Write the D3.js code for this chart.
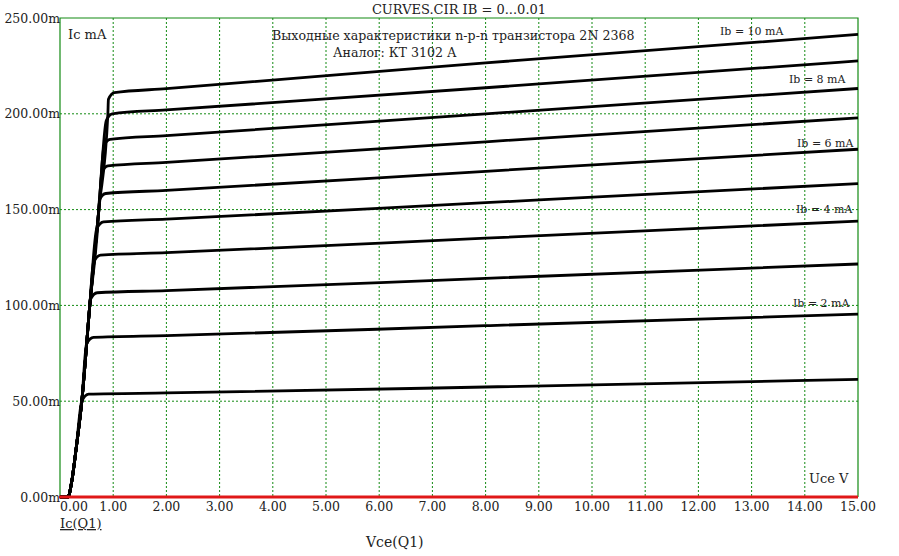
<!DOCTYPE html>
<html>
<head>
<meta charset="utf-8">
<script src="https://cdn.jsdelivr.net/npm/d3@7"></script>
<style>
  body { margin: 0; background: #fff; }
  svg text { font-family: "DejaVu Serif", serif; fill: #222; }
</style>
</head>
<body>
<div id="chart"></div>
<script>
// data //
const ibLabels = ['Ib = 1 mA', 'Ib = 2 mA', 'Ib = 3 mA', 'Ib = 4 mA', 'Ib = 5 mA',
  'Ib = 6 mA', 'Ib = 7 mA', 'Ib = 8 mA', 'Ib = 9 mA', 'Ib = 10 mA']
// common steep rise near the origin (Vce, Ic mA)
const riseV = [0.00, 0.15, 0.22, 0.30, 0.41, 0.56, 0.73, 0.90]
const riseI = [0.0, 0.0, 8.0, 24.5, 50.0, 100.0, 150.0, 200.0]
// where each curve leaves the rise, and where the flat part starts
const bendV = [0.41, 0.50, 0.57, 0.63, 0.69, 0.74, 0.79, 0.83, 0.87, 0.91]
const bendI = [50.0, 80.0, 103.0, 122.5, 140.0, 155.0, 169.5, 183.5, 196.5, 207.5]
const kneeV = [0.54, 0.63, 0.70, 0.76, 0.82, 0.86, 0.90, 0.94, 0.98, 1.02]
const kneeI = [53.7, 83.3, 106.6, 126.2, 143.6, 158.4, 172.8, 186.7, 200.0, 211.0]
// value at Vce = 2 V, 8 V and 15 V
const at2I = [54.3, 84.2, 107.7, 127.5, 145.0, 160.0, 174.6, 188.6, 202.0, 213.1]
const at8I = [57.4, 89.4, 114.1, 135.1, 153.6, 170.0, 185.4, 200.0, 213.6, 226.6]
const at15I = [61.4, 95.4, 121.6, 144.0, 163.6, 181.5, 197.9, 213.2, 227.6, 241.4]
// labelled curves
const labelled = [1, 3, 5, 7, 9]
const labelX = [0, 793, 0, 796, 0, 797, 0, 789, 0, 720]
const labelY = [0, 307, 0, 213, 0, 147, 0, 83, 0, 35]

const xTicks = [0, 1, 2, 3, 4, 5, 6, 7, 8, 9, 10, 11, 12, 13, 14, 15]
const yTicks = [0, 50, 100, 150, 200, 250]

const title = 'CURVES.CIR IB = 0...0.01'
const subTitle1 = 'Выходные характеристики n-p-n транзистора 2N 2368'
const subTitle2 = 'Аналог: КТ 3102 А'

// svg //
const width = 899
const height = 556
const margin = { top: 18, bottom: 59, left: 60, right: 41 }
const innerWidth = width - margin.left - margin.right
const innerHeight = height - margin.top - margin.bottom
const green = '#138a13'

const svg = d3.select('#chart').append('svg')
  .attr('width', width)
  .attr('height', height)

const main = svg.append('g')
  .attr('transform', `translate(${margin.left}, ${margin.top})`)

const x = d3.scaleLinear().domain([0, 15]).range([0, innerWidth])
const y = d3.scaleLinear().domain([0, 250]).range([innerHeight, 0])

// grid //
main.selectAll('.vgrid')
  .data(xTicks.filter(d => d > 0 && d < 15))
  .enter()
  .append('line')
  .attr('x1', d => x(d)).attr('x2', d => x(d))
  .attr('y1', 0).attr('y2', innerHeight)
  .attr('stroke', green)
  .attr('stroke-width', 1)
  .attr('stroke-dasharray', '2,2')

main.selectAll('.hgrid')
  .data(yTicks.filter(d => d > 0 && d < 250))
  .enter()
  .append('line')
  .attr('x1', 0).attr('x2', innerWidth)
  .attr('y1', d => y(d)).attr('y2', d => y(d))
  .attr('stroke', green)
  .attr('stroke-width', 1)
  .attr('stroke-dasharray', '2,2')

// frame
main.append('path')
  .attr('d', `M0,${innerHeight}V0H${innerWidth}V${innerHeight}`)
  .attr('fill', 'none')
  .attr('stroke', green)
  .attr('stroke-width', 1.2)

// curves //
const curves = ibLabels.map((name, i) => {
  const pts = []
  riseV.forEach((v, j) => {
    if (riseI[j] < bendI[i]) pts.push([v, riseI[j]])
  })
  pts.push([bendV[i], bendI[i]])
  pts.push([kneeV[i], kneeI[i]])
  pts.push([2, at2I[i]])
  pts.push([8, at8I[i]])
  pts.push([15, at15I[i]])
  return { name, pts }
})

const line = d3.line()
  .x(d => x(d[0]))
  .y(d => y(d[1]))
  .curve(d3.curveMonotoneX)

main.selectAll('.curve')
  .data(curves)
  .enter()
  .append('path')
  .attr('class', 'curve')
  .attr('d', d => line(d.pts))
  .attr('fill', 'none')
  .attr('stroke', '#000')
  .attr('stroke-width', 2.8)
  .attr('stroke-linejoin', 'round')

// red zero line
main.append('line')
  .attr('x1', -1).attr('x2', innerWidth)
  .attr('y1', y(0)).attr('y2', y(0))
  .attr('stroke', '#e01818')
  .attr('stroke-width', 3)

// curve labels
svg.selectAll('.ib')
  .data(labelled)
  .enter()
  .append('text')
  .attr('x', i => labelX[i])
  .attr('y', i => labelY[i])
  .style('font-size', '11px')
  .text(i => ibLabels[i])

// axes labels //
main.selectAll('.ytick')
  .data(yTicks)
  .enter()
  .append('text')
  .attr('x', 0)
  .attr('y', d => y(d))
  .attr('dy', '0.36em')
  .attr('text-anchor', 'end')
  .style('font-size', '12.5px')
  .text(d => d.toFixed(2) + 'm')

main.selectAll('.xtick')
  .data(xTicks)
  .enter()
  .append('text')
  .attr('x', d => d === 0 ? 0 : x(d))
  .attr('y', innerHeight + 14)
  .attr('text-anchor', d => d === 0 ? 'start' : 'middle')
  .style('font-size', '12.5px')
  .text(d => d.toFixed(2))

// texts //
svg.append('text')
  .attr('x', margin.left + innerWidth / 2)
  .attr('y', 14)
  .attr('text-anchor', 'middle')
  .style('font-size', '13px')
  .text(title)

svg.append('text')
  .attr('x', 272)
  .attr('y', 40)
  .style('font-size', '12.6px')
  .text(subTitle1)

svg.append('text')
  .attr('x', 333)
  .attr('y', 57)
  .style('font-size', '12.6px')
  .text(subTitle2)

svg.append('text')
  .attr('x', 68)
  .attr('y', 39)
  .style('font-size', '13px')
  .text('Ic mA')

svg.append('text')
  .attr('x', 809)
  .attr('y', 483)
  .style('font-size', '13px')
  .text('Uce V')

svg.append('text')
  .attr('x', 60)
  .attr('y', 528)
  .style('font-size', '13px')
  .style('text-decoration', 'underline')
  .text('Ic(Q1)')

svg.append('text')
  .attr('x', 366)
  .attr('y', 547)
  .style('font-size', '14px')
  .text('Vce(Q1)')
</script>
</body>
</html>
